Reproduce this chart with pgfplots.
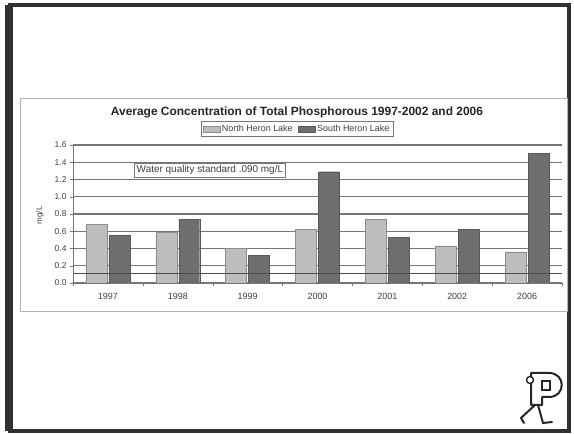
\documentclass[border=0pt]{standalone}
\usepackage{pgfplots}
\pgfplotsset{compat=1.18}
\usepackage{fontspec}
\setmainfont{Liberation Sans}

\definecolor{northgray}{HTML}{BDBDBD}
\definecolor{southgray}{HTML}{6E6E6E}
\definecolor{gridgray}{HTML}{767676}
\definecolor{framedark}{HTML}{2F3330}

\begin{document}
\begin{tikzpicture}[x=1bp,y=1bp]
% slide background and frame
\fill[white] (0,0) rectangle (574,434);
\draw[line width=4bp, framedark] (10,3) rectangle (569,429);
\fill[framedark] (5,3) rectangle (13,429);
% chart box
\draw[line width=0.8bp, black!30] (20,123) rectangle (567,336);

\begin{axis}[
  at={(73bp,151bp)}, anchor=south west,
  scale only axis,
  width=489bp, height=138bp,
  xmin=-0.5, xmax=6.5,
  ymin=0, ymax=1.6,
  ybar, bar width=0.3,
  xtick={0,1,2,3,4,5,6},
  xticklabels={1997,1998,1999,2000,2001,2002,2006},
  major x tick style={draw=none},
  minor xtick={-0.5,0.5,1.5,2.5,3.5,4.5,5.5,6.5},
  minor tick length=3bp,
  ytick={0,0.2,0.4,0.6,0.8,1.0,1.2,1.4,1.6},
  major tick length=3bp,
  tick align=outside,
  tick style={gridgray},
  yticklabel style={/pgf/number format/.cd, fixed, fixed zerofill, precision=1},
  /pgf/number format/assume math mode=true,
  ticklabel style={font=\fontsize{8.5}{9}\selectfont, text=black!75},
  xticklabel style={font=\fontsize{9}{10}\selectfont, yshift=-4bp},
  axis x line*=bottom, axis y line*=left,
  axis line style={gridgray, line width=0.8bp},
  ymajorgrids,
  grid style={gridgray, line width=1.3bp},
  ylabel={mg/L},
  ylabel style={font=\fontsize{8}{9}\selectfont, text=black!75, at={(axis description cs:-0.068,0.49)}, anchor=center},
  title={\textbf{Average Concentration of Total Phosphorous 1997-2002 and 2006}},
  title style={font=\fontsize{12}{13}\selectfont, text=black!85, at={(axis description cs:0.458,1.195)}, anchor=center},
  legend columns=2,
  legend style={at={(axis description cs:0.458,1.116)}, anchor=center,
    font=\fontsize{9}{10}\selectfont, text=black!75, draw=gridgray,
    inner sep=1.5bp, /tikz/every even column/.append style={column sep=3bp}},
  area legend,
]
\addplot[fill=northgray, draw=black!45, line width=0.4bp]
  coordinates {(0,0.68) (1,0.59) (2,0.40) (3,0.62) (4,0.74) (5,0.43) (6,0.36)};
\addlegendentry{North Heron Lake}
\addplot[fill=southgray, draw=black!65, line width=0.4bp]
  coordinates {(0,0.55) (1,0.74) (2,0.32) (3,1.29) (4,0.53) (5,0.62) (6,1.50)};
\addlegendentry{South Heron Lake}
% water quality standard line
\addplot[sharp plot, no marks, draw=black!70, line width=1.5bp, forget plot]
  coordinates {(-0.5,0.11) (6.5,0.11)};
\node[draw=gridgray, fill=white, font=\fontsize{10}{11}\selectfont, text=black!75, inner sep=2.5bp]
  at (axis cs:1.46,1.31) {Water quality standard .090 mg/L};
\end{axis}

% "P" figure logo
\draw[line width=2bp, black!85, fill=white, line join=round]
  (531,56) -- (531,29) -- (542,29) -- (542,37) -- (549,37)
  .. controls (566,37) and (566,61) .. (549,61) -- (531,61) -- cycle;
\draw[line width=1.8bp, black!85, fill=white] (542,44) rectangle (550,53);
\draw[line width=2bp, black!85, line cap=round] (535,29) -- (521,16) -- (524,11);
\draw[line width=2bp, black!85, line cap=round] (538,29) -- (543,11) -- (552,12);
\draw[line width=1.4bp, black!85, fill=white] (530,54) circle (3.5bp);
\end{tikzpicture}
\end{document}
